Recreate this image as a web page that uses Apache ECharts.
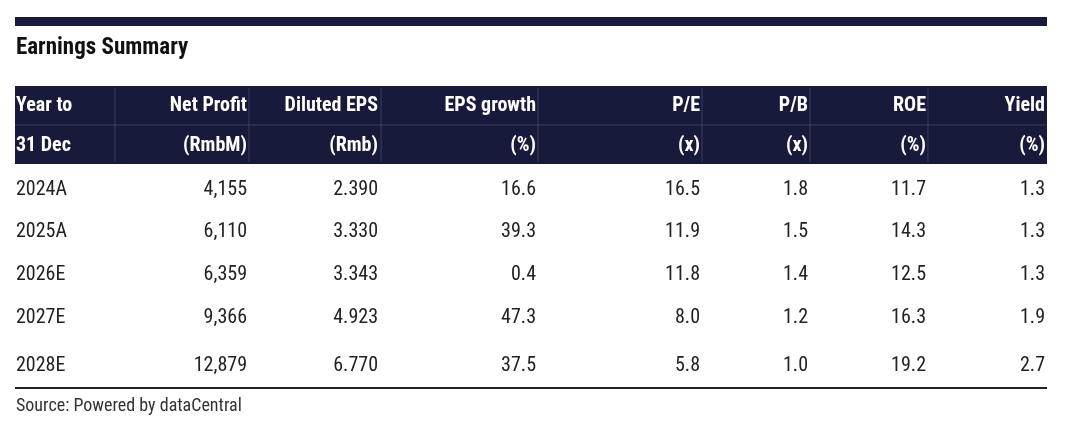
<!DOCTYPE html>
<html><head><meta charset="utf-8">
<script src="https://cdn.jsdelivr.net/npm/echarts@6/dist/echarts.min.js"></script>
<style>html,body{margin:0;padding:0;background:#fff}#chart{width:1080px;height:435px}</style>
</head><body><div id="chart"></div>
<script>
var headerTop = ['Year to', 'Net Profit', 'Diluted EPS', 'EPS growth', 'P/E', 'P/B', 'ROE', 'Yield'];
var headerBottom = ['31 Dec', '(RmbM)', '(Rmb)', '(%)', '(x)', '(x)', '(%)', '(%)'];
var years = ['2024A', '2025A', '2026E', '2027E', '2028E'];
var netProfit = ['4,155', '6,110', '6,359', '9,366', '12,879'];
var dilutedEps = ['2.390', '3.330', '3.343', '4.923', '6.770'];
var epsGrowth = ['16.6', '39.3', '0.4', '47.3', '37.5'];
var pe = ['16.5', '11.9', '11.8', '8.0', '5.8'];
var pb = ['1.8', '1.5', '1.4', '1.2', '1.0'];
var roe = ['11.7', '14.3', '12.5', '16.3', '19.2'];
var yieldPct = ['1.3', '1.3', '1.3', '1.9', '2.7'];

var columns = [years, netProfit, dilutedEps, epsGrowth, pe, pb, roe, yieldPct];
var colRight = [16, 247, 378, 536, 700, 808, 926, 1045];
var sepX = [115, 249, 381, 538, 702, 810, 928];
var rowY = [190, 232, 275, 318, 366];
var font = '"Liberation Sans Narrow","Roboto Condensed","Liberation Sans",sans-serif';
var navy = '#171a3b';

var g = [];
g.push({ type: 'rect', shape: { x: 15, y: 17, width: 1032, height: 9 }, style: { fill: navy } });
g.push({ type: 'text', x: 16, y: 48, style: { text: 'Earnings Summary', font: 'bold 23px ' + font, fill: '#111', textVerticalAlign: 'middle' } });
g.push({ type: 'rect', shape: { x: 15, y: 86, width: 1032, height: 78 }, style: { fill: navy } });
g.push({ type: 'line', shape: { x1: 15, y1: 125, x2: 1047, y2: 125 }, style: { stroke: '#3a3e5e', lineWidth: 1 } });
sepX.forEach(function (x) {
    g.push({ type: 'line', shape: { x1: x, y1: 88, x2: x, y2: 162 }, style: { stroke: '#3a3e5e', lineWidth: 1 } });
});
columns.forEach(function (col, i) {
    var align = i === 0 ? 'left' : 'right';
    g.push({ type: 'text', x: colRight[i], y: 106, style: { text: headerTop[i], font: 'bold 20px ' + font, fill: '#fff', textAlign: align, textVerticalAlign: 'middle' } });
    g.push({ type: 'text', x: colRight[i], y: 146, style: { text: headerBottom[i], font: 'bold 20px ' + font, fill: '#fff', textAlign: align, textVerticalAlign: 'middle' } });
    col.forEach(function (v, r) {
        g.push({ type: 'text', x: colRight[i], y: rowY[r], style: { text: v, font: '20px ' + font, fill: '#222', textAlign: align, textVerticalAlign: 'middle' } });
    });
});
g.push({ type: 'line', shape: { x1: 15, y1: 388, x2: 1047, y2: 388 }, style: { stroke: '#222', lineWidth: 2 } });
g.push({ type: 'text', x: 16, y: 406, style: { text: 'Source: Powered by dataCentral', font: '18px ' + font, fill: '#333', textVerticalAlign: 'middle' } });

var chart = echarts.init(document.getElementById('chart'));
chart.setOption({ animation: false, graphic: g });
</script></body></html>
